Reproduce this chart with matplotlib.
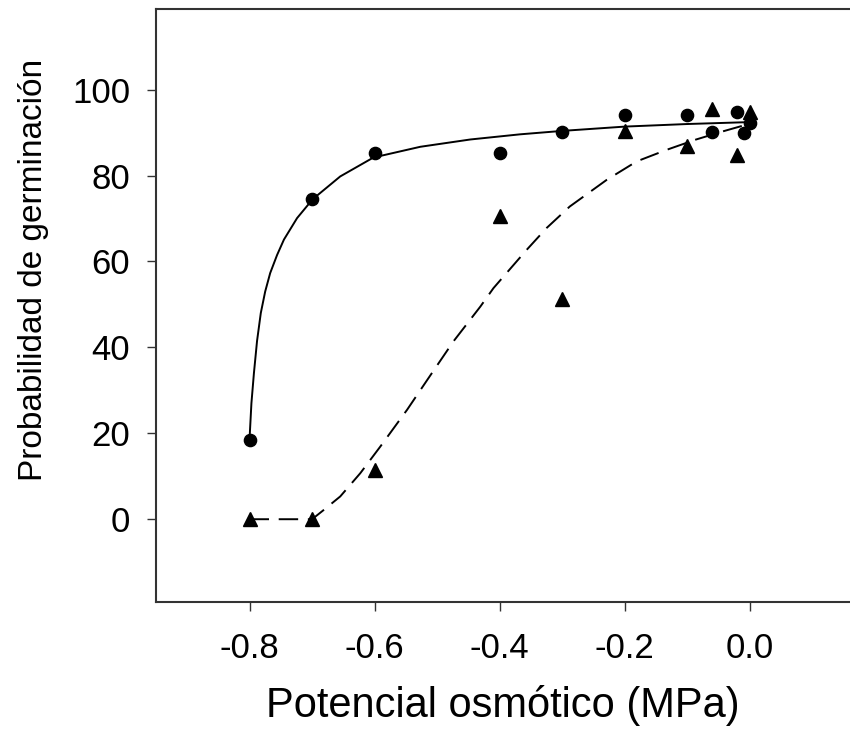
import matplotlib
matplotlib.use("Agg")
import matplotlib.pyplot as plt

plt.rcParams["font.family"] = ["Liberation Sans", "DejaVu Sans"]

# observed germination (%), circles and triangles
circle_x = [-0.8, -0.7, -0.6, -0.4, -0.3, -0.2, -0.1, -0.06, -0.02, -0.01, 0.0]
circle_y = [18.4, 74.6, 85.3, 85.2, 90.1, 94.2, 94.2, 90.1, 94.7, 89.9, 92.2]

tri_x = [-0.8, -0.7, -0.6, -0.4, -0.3, -0.2, -0.1, -0.06, -0.02, 0.0]
tri_y = [0.0, 0.0, 11.4, 70.6, 51.3, 90.3, 86.8, 95.5, 84.8, 94.8]

# fitted curves
fit_solid_x = [-0.8, -0.797, -0.793, -0.788, -0.782, -0.775, -0.767, -0.756, -0.745,
               -0.724, -0.699, -0.655, -0.602, -0.527, -0.447, -0.3675, -0.30,
               -0.20, -0.10, -0.011, 0.0]
fit_solid_y = [18.7, 27.0, 34.0, 41.5, 48.0, 53.0, 57.3, 61.5, 65.1,
               70.1, 74.5, 79.8, 84.2, 86.7, 88.4, 89.6, 90.4,
               91.4, 92.0, 92.4, 92.4]

fit_dash_x = [-0.8, -0.7, -0.681, -0.655, -0.623, -0.591, -0.548, -0.516, -0.474,
              -0.431, -0.41, -0.357, -0.325, -0.288, -0.229, -0.181, -0.133,
              -0.086, -0.043, -0.014, 0.0]
fit_dash_y = [0.0, 0.0, 2.2, 5.3, 10.7, 16.9, 25.5, 32.4, 41.4,
              49.5, 53.8, 62.7, 67.8, 72.8, 79.0, 83.3, 86.0,
              88.4, 90.3, 91.5, 92.0]

x_ticks = [-0.8, -0.6, -0.4, -0.2, 0.0]
y_ticks = [0, 20, 40, 60, 80, 100]

fig = plt.figure(figsize=(8.5, 7.4), dpi=100)
ax = fig.add_axes([0.1832, 0.1869, 0.8168, 0.8005])

ax.plot(fit_solid_x, fit_solid_y, color="black", lw=1.4)
ax.plot(fit_dash_x, fit_dash_y, color="black", lw=1.4, dashes=(10, 5))
ax.plot(circle_x, circle_y, "o", color="black", ms=8.8, ls="none")
ax.plot(tri_x, tri_y, "^", color="black", ms=10, ls="none")

ax.set_xlim(-0.95, 0.16)
ax.set_ylim(-19.2, 118.7)
ax.set_xticks(x_ticks)
ax.set_xticklabels([f"{v:.1f}" for v in x_ticks])
ax.set_yticks(y_ticks)

for side in ["left", "bottom", "top"]:
    ax.spines[side].set_linewidth(1.5)
    ax.spines[side].set_color("#333333")
ax.spines["right"].set_visible(False)

ax.tick_params(direction="out", length=6.5, width=1.0, color="#333333",
               labelsize=25, pad=12)
ax.tick_params(axis="x", pad=15.5)

ax.set_xlabel("Potencial osmótico (MPa)", fontsize=30, labelpad=14)
ax.set_ylabel("Probabilidad de germinación", fontsize=24)
ax.yaxis.set_label_coords(-0.154, 0.56)

fig.savefig("out.png", dpi=100)
